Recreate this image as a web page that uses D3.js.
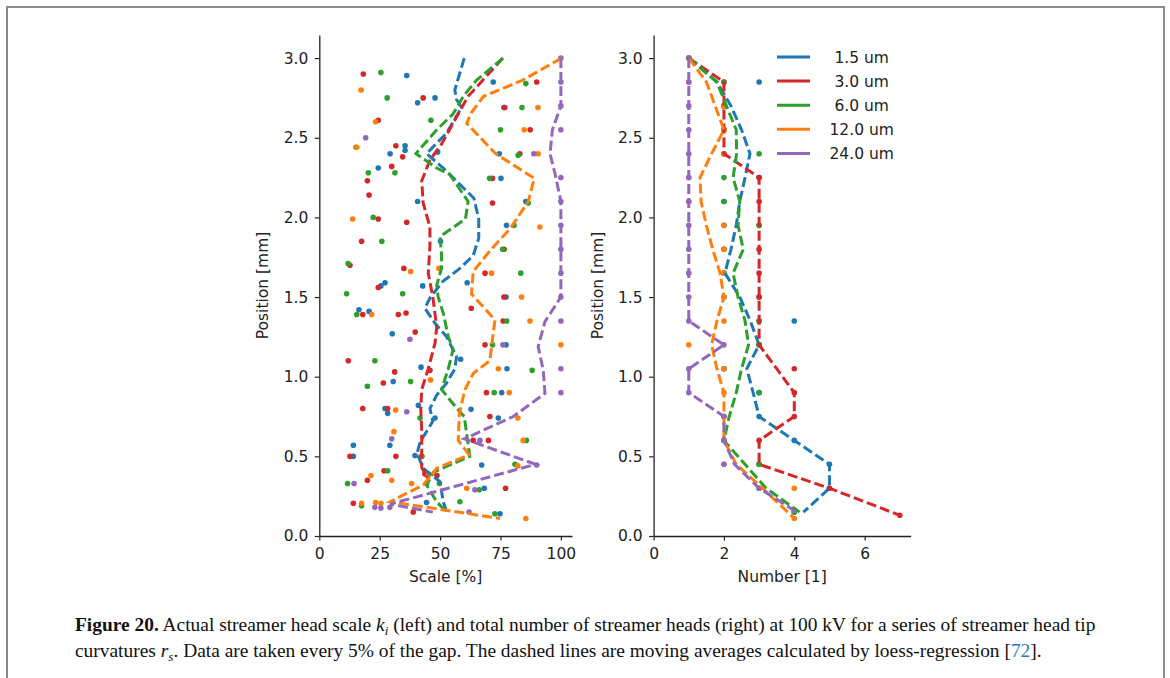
<!DOCTYPE html>
<html><head><meta charset="utf-8">
<script src="https://cdn.jsdelivr.net/npm/d3@7"></script>
<style>
html,body{margin:0;padding:0;background:#fff;}
svg{display:block;}
.tick text{font-family:"DejaVu Sans",sans-serif;font-size:15.5px;fill:#222;}
</style></head>
<body>
<svg id="chart" width="1170" height="678"></svg>
<script>
// ---------- DATA ----------
const seriesLabels = ["1.5 um","3.0 um","6.0 um","12.0 um","24.0 um"];
const seriesColors = ["#1f77b4","#d62728","#2ca02c","#ff7f0e","#9467bd"];

const scaleTicks = [0,25,50,75,100];
const numberTicks = [0,2,4,6];
const posTicks = [0,0.5,1.0,1.5,2.0,2.5,3.0];

// Left panel: individual head scales (%) and their positions (mm)
const dotScale15 = [36.2,72,40.7,47.9,76.4,35.5,35.5,29.3,49,74.5,24.4,75.2,40.7,85.5,77.5,50.2,27.2,25.5,42.8,61.2,77.3,16.4,20.6,30.2,77.3,58.5,42.1,77.7,30.6,75.5,41,28.3,27.2,47.9,62.8,74.1,29.2,14.1,14.1,39.6,67.2,44.4,68.3,44.4,74.8];
const dotPos15   = [2.89,2.85,2.72,2.75,2.69,2.45,2.42,2.40,2.41,2.40,2.31,2.245,2.10,2.10,1.95,1.85,1.59,1.57,1.57,1.59,1.50,1.42,1.41,1.27,1.20,1.11,1.06,1.05,0.97,0.90,0.82,0.77,0.80,0.74,0.795,0.74,0.57,0.57,0.50,0.505,0.446,0.33,0.30,0.21,0.14];
const dotScale30 = [18.2,90,43,76.8,24.4,87.3,31.7,34.5,83,30,19.9,71.7,20.6,71.7,24.4,36.2,17.5,76.5,12.7,35,68.6,24.4,76.4,18,32.7,35.9,62.9,76.1,39.7,68.6,12,45.8,31.2,26.5,69.2,18,28.3,70.6,63.7,70,12.7,31.7,19.9,26.8,48.7,77.1,14.1,38.9,43.7];
const dotPos30   = [2.90,2.85,2.75,2.69,2.61,2.55,2.45,2.38,2.40,2.32,2.23,2.245,2.14,2.09,1.99,1.97,1.85,1.80,1.70,1.68,1.65,1.56,1.50,1.39,1.39,1.40,1.43,1.35,1.28,1.20,1.10,1.04,1.03,0.96,0.90,0.80,0.80,0.75,0.60,0.60,0.50,0.50,0.35,0.41,0.38,0.30,0.205,0.15,0.39];
const dotScale60 = [25.5,85.5,28.1,83.9,46.2,75,15.2,82.3,20.3,31.3,70.5,86.5,22.3,80.6,25.9,75.9,11.9,83.4,11.3,34.5,15.5,77.6,71.7,23,88.1,37.8,19.9,72.4,41.7,85.7,42.5,81,28.3,11.7,49.7,66.2,17.5,58.2,72.7];
const dotPos60   = [2.91,2.84,2.75,2.69,2.61,2.55,2.44,2.39,2.28,2.28,2.245,2.09,2.0,1.95,1.85,1.80,1.71,1.65,1.52,1.52,1.39,1.35,1.20,1.10,1.04,0.97,0.94,0.90,0.74,0.60,0.50,0.45,0.41,0.33,0.33,0.29,0.19,0.215,0.14];
const dotScale120 = [17.3,90.5,23.3,84.8,15.5,90.6,13.8,91.3,49.5,37.8,71.3,83.7,21.7,87.2,100,74.1,46,78.6,31.6,82.2,30.9,84.4,42,82.2,21.4,30,38.2,45.1,61,17.5,23.3,25.5,85.5];
const dotPos120   = [2.80,2.69,2.60,2.55,2.44,2.40,1.99,1.94,1.68,1.66,1.65,1.50,1.39,1.35,1.20,1.05,0.98,0.90,0.79,0.74,0.655,0.60,0.50,0.44,0.38,0.35,0.33,0.38,0.30,0.205,0.21,0.205,0.11];
const dotScale240 = [100,100,100,100,19.2,88.8,100,100,100,100,100,100,100,37.5,76,100,100,36.2,30,66.5,90,14.4,64.4,23,25.5,29.2,62];
const dotPos240   = [3.0,2.85,2.70,2.55,2.50,2.40,2.25,2.10,1.95,1.80,1.65,1.50,1.35,1.235,1.20,1.05,0.90,0.78,0.61,0.60,0.446,0.33,0.29,0.18,0.175,0.18,0.15];

// Left panel: loess moving averages
const avgScale15 = [60,56.1,56.8,58.9,52.7,44.4,51.3,64,66,66,63.7,58.2,51.3,46,43.7,47.9,52.7,56.8,56.1,52.7,48.6,45.8,47,41.7,40.5,43,50,51.3,52.7];
const avgPos15   = [3.0,2.8,2.74,2.69,2.53,2.40,2.31,2.12,1.99,1.87,1.76,1.68,1.60,1.50,1.43,1.335,1.25,1.125,1.05,0.96,0.885,0.80,0.72,0.59,0.52,0.425,0.34,0.215,0.15];
const avgScale30 = [76,61.6,56.8,50.6,45.8,42.4,43,45.8,45.8,45.1,47,48.6,47.9,45.1,42.4,42,42.4,42.4,42.4,45];
const avgPos30   = [3.0,2.76,2.63,2.46,2.36,2.23,2.09,1.94,1.82,1.65,1.50,1.31,1.21,1.05,0.92,0.80,0.665,0.49,0.43,0.36];
const avgScale60 = [76,65,59.6,55.4,48.6,40,48.6,54,61.6,60.5,50,50.6,50.6,48.6,49.2,51.3,53.4,55.4,53.4,50.6,57,60,62.3,47.2,44.4,48.6,52.7];
const avgPos60   = [3.0,2.86,2.76,2.65,2.55,2.40,2.31,2.27,2.10,1.99,1.88,1.76,1.68,1.575,1.50,1.40,1.25,1.17,1.05,0.92,0.80,0.75,0.50,0.40,0.32,0.215,0.15];
const avgScale120 = [100.3,84,68,63,61,73,89,86.5,79,70.6,63.7,63,72.7,71.3,70.6,63.7,60.3,58,57.5,62,48.6,43,29.3,74.8];
const avgPos120   = [3.0,2.86,2.76,2.66,2.59,2.40,2.245,2.10,1.93,1.79,1.66,1.52,1.356,1.19,1.10,1.02,0.92,0.77,0.60,0.51,0.425,0.32,0.215,0.11];
const avgScale240 = [100,100,96.5,95.5,97.5,100,100,93.4,90.6,92.7,93.4,80.3,60,89.5,29.3,47];
const avgPos240   = [3.0,2.7,2.55,2.40,2.28,2.10,1.50,1.345,1.19,1.04,0.895,0.75,0.61,0.45,0.2,0.15];

// Right panel: positions every 5% of the gap; last position per series
const numPos = [3.0,2.85,2.7,2.55,2.4,2.25,2.1,1.95,1.8,1.65,1.5,1.35,1.2,1.05,0.9,0.75,0.6,0.45,0.3,0.15];
const numLastPos = [0.15,0.13,0.15,0.11,0.16];
// number of heads (dots)
const heads15  = [1,3,2,2,2,3,2,2,2,2,3,4,3,2,3,3,4,5,5,4];
const heads30  = [1,2,2,2,2,3,3,3,3,3,3,3,3,4,4,4,3,3,5,7];
const heads60  = [1,2,2,2,3,2,2,3,2,2,2,3,3,2,3,2,2,3,3,4];
const heads120 = [1,1,2,2,2,1,1,2,2,2,2,2,1,2,2,2,2,2,4,4];
const heads240 = [1,1,1,1,1,1,1,1,1,1,1,1,2,1,1,2,2,2,3,4];
// loess averages
const headsAvg15  = [1,1.8,2.2,2.5,2.74,2.6,2.45,2.35,2.2,2.03,2.45,2.75,3.0,2.65,2.83,3.0,4.0,5.0,5.0,4.26];
const headsAvg30  = [1,2,2,2,2,3,3,3,3,3,3,3,3,3.5,4,4,3,3,5,7];
const headsAvg60  = [1,1.8,2.07,2.35,2.36,2.26,2.45,2.4,2.55,2.26,2.4,2.6,2.7,2.5,2.35,2.15,2.0,2.6,3.2,4.15];
const headsAvg120 = [1,1.5,1.75,2.0,1.65,1.32,1.35,1.5,1.68,1.89,2.0,1.8,1.65,1.8,2.0,2.0,2.0,2.35,3.1,4.0];
const headsAvg240 = [1,1,1,1,1,1,1,1,1,1,1,1,2,1,1,2,2,2.3,3,4];

// ---------- DRAW ----------
const svg = d3.select("#chart");
const font = '"DejaVu Sans", sans-serif';

// figure frame
svg.append("rect").attr("x",7).attr("y",7).attr("width",1157).attr("height",700)
  .attr("fill","none").attr("stroke","#8c8c8c").attr("stroke-width",2);

const yTop = 35, yBot = 536;
const yL = d3.scaleLinear().domain([0,3.145]).range([yBot,yTop]);
const xL = d3.scaleLinear().domain([0,104.6]).range([319.3,572]);
const xR = d3.scaleLinear().domain([0,7.31]).range([653.6,910.7]);

function axes(g, x, xTicks, xLabel) {
  const ax = g.append("g").attr("transform",`translate(0,${yBot})`)
    .call(d3.axisBottom(x).tickValues(xTicks).tickFormat(d3.format("d")).tickSize(4.5).tickPadding(7).tickSizeOuter(0));
  const ay = g.append("g").attr("transform",`translate(${x.range()[0]},0)`)
    .call(d3.axisLeft(yL).tickValues(posTicks).tickFormat(d3.format(".1f")).tickSize(4.5).tickPadding(6.5).tickSizeOuter(0));
  [ax,ay].forEach(a=>{
    a.select(".domain").attr("stroke","#222").attr("stroke-width",1.3);
    a.selectAll(".tick line").attr("stroke","#222").attr("stroke-width",1.2);
  });
  g.append("text").attr("x",(x.range()[0]+x.range()[1])/2).attr("y",581.5)
    .attr("text-anchor","middle").attr("font-family",font).attr("font-size",15.5).attr("fill","#222").text(xLabel);
  g.append("text").attr("transform",`translate(${x.range()[0]-51},${(yTop+yBot)/2}) rotate(-90)`)
    .attr("text-anchor","middle").attr("font-family",font).attr("font-size",15.5).attr("fill","#222").text("Position [mm]");
}

const gL = svg.append("g"), gR = svg.append("g");
axes(gL, xL, scaleTicks, "Scale [%]");
axes(gR, xR, numberTicks, "Number [1]");

const zip = (a,b) => a.map((v,i)=>[v,b[i]]);
const leftDots = [[dotScale15,dotPos15],[dotScale30,dotPos30],[dotScale60,dotPos60],[dotScale120,dotPos120],[dotScale240,dotPos240]];
const leftAvg  = [[avgScale15,avgPos15],[avgScale30,avgPos30],[avgScale60,avgPos60],[avgScale120,avgPos120],[avgScale240,avgPos240]];
const rightDots = [heads15,heads30,heads60,heads120,heads240];
const rightAvg  = [headsAvg15,headsAvg30,headsAvg60,headsAvg120,headsAvg240];

const dash = "10,4";
const lw = 3, rDot = 2.8;

// left dots
leftDots.forEach((s,i)=>{
  gL.append("g").selectAll("circle").data(zip(s[0],s[1])).join("circle")
    .attr("cx",d=>xL(d[0])).attr("cy",d=>yL(d[1])).attr("r",rDot).attr("fill",seriesColors[i]);
});
// left lines
leftAvg.forEach((s,i)=>{
  gL.append("path").datum(zip(s[0],s[1]))
    .attr("d",d3.line().x(d=>xL(d[0])).y(d=>yL(d[1])))
    .attr("fill","none").attr("stroke",seriesColors[i]).attr("stroke-width",lw).attr("stroke-dasharray",dash);
});

// right dots & lines
function posFor(i){ return numPos.map((p,k)=> k===numPos.length-1 ? numLastPos[i] : p); }
rightDots.forEach((vals,i)=>{
  gR.append("g").selectAll("circle").data(zip(vals,posFor(i))).join("circle")
    .attr("cx",d=>xR(d[0])).attr("cy",d=>yL(d[1])).attr("r",rDot).attr("fill",seriesColors[i]);
});
rightAvg.forEach((vals,i)=>{
  gR.append("path").datum(zip(vals,posFor(i)))
    .attr("d",d3.line().x(d=>xR(d[0])).y(d=>yL(d[1])))
    .attr("fill","none").attr("stroke",seriesColors[i]).attr("stroke-width",lw).attr("stroke-dasharray",dash);
});

// legend
const leg = svg.append("g");
seriesLabels.forEach((lab,i)=>{
  const y = 57 + i*24.1;
  leg.append("line").attr("x1",777).attr("x2",810).attr("y1",y).attr("y2",y)
    .attr("stroke",seriesColors[i]).attr("stroke-width",lw);
  leg.append("text").attr("x",861.7).attr("y",y).attr("dy","0.36em").attr("text-anchor","middle")
    .attr("font-family",font).attr("font-size",15.5).attr("fill","#222").text(lab);
});

// caption: condensed serif, same glyph scale on both lines
const capFont = '"Liberation Serif","Times New Roman",serif';
const capX = 75;
function makeLine(build) {
  const t = svg.append("text").attr("x",0).attr("y",0).attr("font-family",capFont)
    .attr("font-size",19).attr("fill","#111");
  build(t);
  return t;
}
const l1 = makeLine(t=>{
  t.append("tspan").attr("font-weight","bold").text("Figure 20.");
  t.append("tspan").text(" Actual streamer head scale ");
  t.append("tspan").attr("font-style","italic").text("k");
  t.append("tspan").attr("font-style","italic").attr("font-size",13).attr("dy",4).text("i");
  t.append("tspan").attr("dy",-4).text(" (left) and total number of streamer heads (right) at 100 kV for a series of streamer head tip");
});
const l2 = makeLine(t=>{
  t.append("tspan").text("curvatures ");
  t.append("tspan").attr("font-style","italic").text("r");
  t.append("tspan").attr("font-style","italic").attr("font-size",13).attr("dy",4).text("s");
  t.append("tspan").attr("dy",-4).text(". Data are taken every 5% of the gap. The dashed lines are moving averages calculated by loess-regression [");
  t.append("tspan").attr("fill","#2b7bb9").text("72");
  t.append("tspan").text("].");
});
const s = (1096 - capX) / l1.node().getComputedTextLength();
l1.attr("transform",`translate(${capX},631) scale(${s},1)`);
l2.attr("transform",`translate(${capX},657) scale(${s},1)`);
</script>
</body></html>
